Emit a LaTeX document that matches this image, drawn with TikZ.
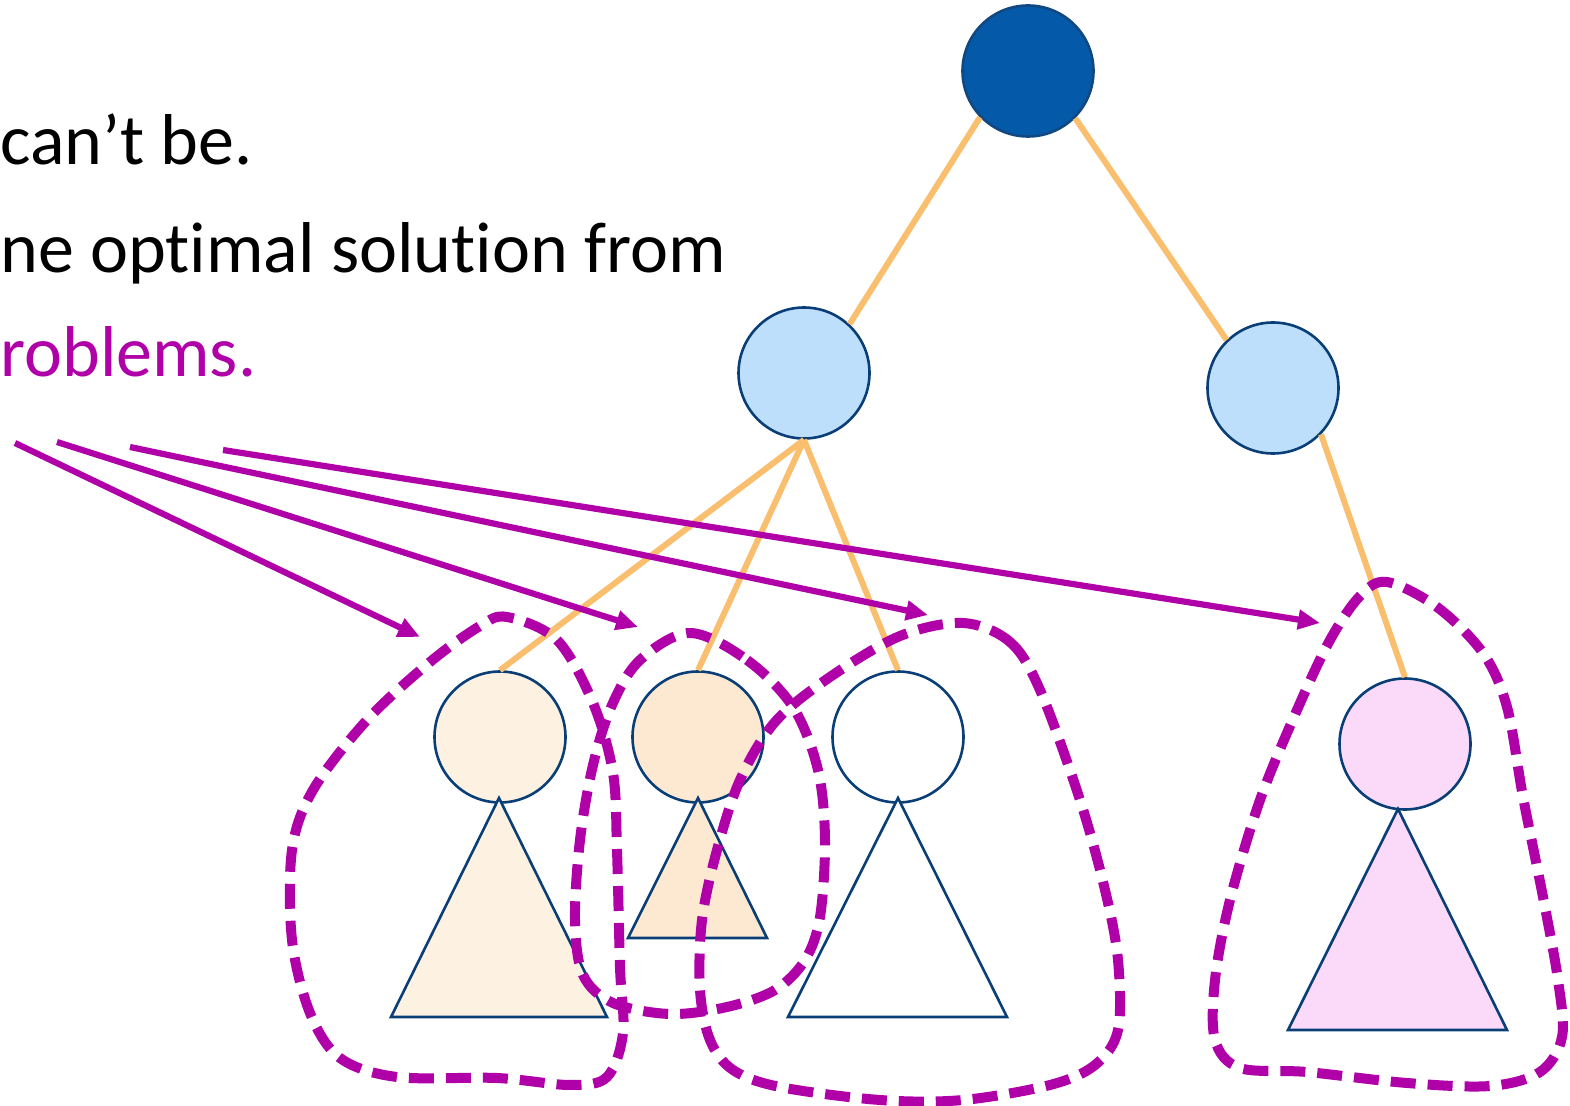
\documentclass[tikz,border=0pt]{standalone}
\usepackage{fontspec}
\setmainfont{Carlito}[Ligatures={NoCommon,NoRequired,NoContextual,NoRare}, RawFeature={-liga;-clig;-calt;-dlig;-rlig}]
\usetikzlibrary{arrows.meta}

\definecolor{purp}{RGB}{176,0,168}
\definecolor{edgeorange}{RGB}{249,191,110}
\definecolor{navy}{RGB}{10,62,118}
\definecolor{rootblue}{RGB}{4,90,168}
\definecolor{rootrim}{RGB}{18,72,130}
\definecolor{midblue}{RGB}{189,223,251}
\definecolor{cream}{RGB}{253,242,226}
\definecolor{peach}{RGB}{253,233,209}
\definecolor{pink}{RGB}{250,217,249}

\tikzset{
  treenode/.style={circle, draw=navy, line width=1.3pt, minimum size=65.5pt, inner sep=0pt},
  treeedge/.style={draw=edgeorange, line width=3pt},
  subtri/.style={draw=navy, line width=1.3pt, line join=miter},
  blob/.style={draw=purp, line width=5pt, dash pattern=on 12.5pt off 6pt},
  pointer/.style={draw=purp, line width=3.1pt, -{Triangle[length=11pt,width=9.5pt]}},
  bodytext/.style={anchor=base west, inner sep=0pt, font=\fontsize{36}{43}\selectfont}
}

\begin{document}
\begin{tikzpicture}[x=0.5pt, y=-0.5pt]
\useasboundingbox (0,0) rectangle (1570,1106);

% text lines (t and i kept apart so they are not joined into one glyph)
\node[bodytext] (t1) at (0,165) {can’t be.};
\node[bodytext] (t2) at (0,273) {ne opt\kern0pt imal solut\kern0pt ion from};
\node[bodytext, text=purp] (t3) at (0,377) {roblems.};

% tree nodes
\node[treenode, fill=rootblue, draw=rootrim] (root) at (1028,71) {};
\node[treenode, fill=midblue] (lm) at (804,373) {};
\node[treenode, fill=midblue] (rm) at (1273,388) {};
\node[treenode, fill=cream] (c1) at (500,737) {};
\node[treenode, fill=peach] (c2) at (698,737) {};
\node[treenode, fill=white] (c3) at (898,737) {};
\node[treenode, fill=pink] (c4) at (1405,744) {};

% tree edges
\draw[treeedge] (root.224) -- (lm.47);
\draw[treeedge] (root.-45) -- (rm.134);
\draw[treeedge] (lm.south) -- (c1.north);
\draw[treeedge] (lm.south) -- (c2.north);
\draw[treeedge] (lm.south) -- (c3.north);
\draw[treeedge] (rm.-44) -- (c4.north);

% subtrees hanging below the leaves
\draw[subtri, fill=cream] (499,798) -- (607,1017) -- (391,1017) -- cycle;
\draw[subtri, fill=peach] (698,798) -- (767,938) -- (628,938) -- cycle;
\draw[subtri, fill=white] (898,798) -- (1007,1017) -- (788,1017) -- cycle;
\draw[subtri, fill=pink] (1398,809) -- (1507,1030) -- (1288,1030) -- cycle;

% dashed outlines of the subproblems
\draw[blob] plot[smooth cycle, tension=0.55] coordinates {
  (507,617) (557,640) (593,703) (613,773) (617,850) (620,967) (623,1033)
  (607,1077) (570,1085) (497,1078) (397,1077) (340,1058) (310,1013)
  (292,940) (292,850) (313,790) (367,720) (430,662) (480,626)};

\draw[blob] plot[smooth cycle, tension=0.55] coordinates {
  (690,633) (747,660) (793,707) (818,770) (825,840) (820,917) (805,960)
  (775,990) (727,1007) (670,1014) (613,1003) (583,975) (575,920)
  (580,840) (593,765) (612,705) (640,660)};

\draw[blob] plot[smooth cycle, tension=0.55] coordinates {
  (963,623) (1010,642) (1040,690) (1080,800) (1105,890) (1118,960)
  (1118,1030) (1095,1065) (1050,1085) (963,1100) (880,1100) (780,1087)
  (733,1070) (710,1040) (700,990) (702,920) (717,850) (740,780) (775,722)
  (830,677) (900,636)};

\draw[blob] plot[smooth cycle, tension=0.55] coordinates {
  (1387,582) (1437,607) (1483,653) (1507,707) (1523,797) (1543,897)
  (1558,980) (1562,1037) (1540,1072) (1490,1086) (1407,1083) (1307,1072)
  (1240,1068) (1215,1040) (1215,980) (1230,900) (1260,800) (1297,710)
  (1330,640) (1360,596)};

% pointers from the text to the subproblems
\coordinate (s1) at (15,443);
\coordinate (s2) at (57,442);
\coordinate (s3) at (130,447);
\coordinate (s4) at (223,450);
\coordinate (e1) at (420,637);
\coordinate (e2) at (638,627);
\coordinate (e3) at (928,615);
\coordinate (e4) at (1320,623);
\draw[pointer] (s1) -- (e1);
\draw[pointer] (s2) -- (e2);
\draw[pointer] (s3) -- (e3);
\draw[pointer] (s4) -- (e4);
\end{tikzpicture}
\end{document}
